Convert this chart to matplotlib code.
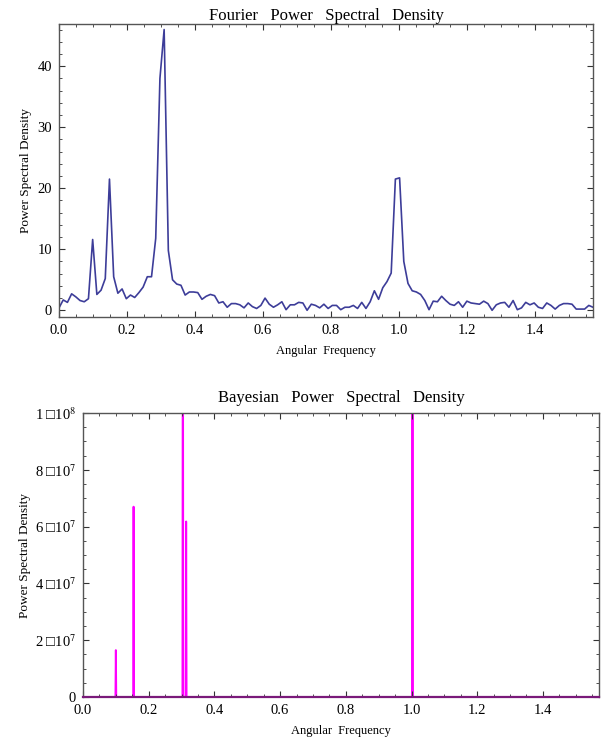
import numpy as np
import matplotlib
matplotlib.use('Agg')
import matplotlib.pyplot as plt
from matplotlib.ticker import MultipleLocator, FixedLocator

plt.rcParams['font.family'] = ['Liberation Serif', 'DejaVu Serif']
plt.rcParams['mathtext.fontset'] = 'stix'

# Fourier periodogram, frequency step 2*pi/508
fourier_step = 2 * np.pi / 508
fourier_psd = [
    0.4, 1.7, 1.3, 2.7, 2.2, 1.6, 1.4, 1.9, 11.6, 2.6,
    3.3, 5.2, 21.5, 5.5, 2.8, 3.5, 1.9, 2.5, 2.1, 2.9,
    3.8, 5.5, 5.5, 11.8, 38.0, 46.0, 9.8, 5.0, 4.3, 4.1,
    2.5, 3.0, 3.0, 2.9, 1.8, 2.3, 2.6, 2.4, 1.2, 1.4,
    0.5, 1.1, 1.1, 0.9, 0.4, 1.2, 0.6, 0.3, 0.8, 2.0,
    1.0, 0.5, 0.9, 1.4, 0.1, 0.9, 0.9, 1.3, 1.2, 0.0,
    1.0, 0.8, 0.4, 1.0, 0.3, 0.8, 0.8, 0.1, 0.5, 0.5,
    0.8, 0.3, 1.3, 0.3, 1.4, 3.2, 1.8, 3.7, 4.7, 6.1,
    21.5, 21.7, 8.0, 4.4, 3.2, 3.0, 2.6, 1.6, 0.1, 1.5,
    1.4, 2.3, 1.6, 1.0, 0.8, 1.4, 0.5, 1.5, 1.2, 1.1,
    1.0, 1.5, 1.1, 0.0, 0.9, 1.2, 1.3, 0.5, 1.6, 0.1,
    0.4, 1.3, 0.9, 1.2, 0.5, 0.3, 1.2, 0.8, 0.2, 0.8,
    1.1, 1.1, 1.0, 0.2, 0.2, 0.2, 0.8, 0.5,
]
fourier_freq = np.arange(len(fourier_psd)) * fourier_step

# Bayesian spectral density: narrow spikes
spike_freq = [0.1, 0.154, 0.304, 0.314, 1.003]
spike_height = [1.65e7, 6.7e7, 1.9e8, 6.18e7, 1.9e8]
spike_halfwidth = 0.0012

bayes_freq = [0.0]
bayes_psd = [0.0]
for f, h in zip(spike_freq, spike_height):
    bayes_freq += [f - spike_halfwidth, f, f + spike_halfwidth]
    bayes_psd += [0.0, h, 0.0]
bayes_freq.append(np.pi / 2)
bayes_psd.append(0.0)

bayes_ticks = [0, 2e7, 4e7, 6e7, 8e7, 1e8]
bayes_ticklabels = ['0', '2 \u25a110$^{7}$', '4 \u25a110$^{7}$', '6 \u25a110$^{7}$',
                    '8 \u25a110$^{7}$', '1 \u25a110$^{8}$']

fig = plt.figure(figsize=(6.01, 7.40), dpi=100)
ax1 = fig.add_axes([0.0982, 0.5716, 0.8885, 0.3959])
ax2 = fig.add_axes([0.1381, 0.0581, 0.8586, 0.3838])


def style(ax):
    for s in ax.spines.values():
        s.set_color('#555555')
        s.set_linewidth(1.0)
    ax.tick_params(which='both', direction='in', top=True, right=True,
                   labelsize=10.5, colors='#333333', labelcolor='black')
    ax.tick_params(which='major', length=4, width=0.8, pad=5)
    ax.tick_params(which='minor', length=2.5, width=0.6)
    ax.xaxis.set_major_locator(MultipleLocator(0.2))
    ax.xaxis.set_minor_locator(MultipleLocator(0.05))
    ax.set_xlabel('Angular  Frequency', fontsize=9, labelpad=6)


ax1.plot(fourier_freq, fourier_psd, color='#3d3d99', lw=1.2)
ax1.set_xlim(0, np.pi / 2)
ax1.set_ylim(-1.1, 46.9)
style(ax1)
ax1.yaxis.set_major_locator(MultipleLocator(10))
ax1.yaxis.set_minor_locator(MultipleLocator(2))
ax1.set_ylabel('Power Spectral Density', fontsize=9.5, labelpad=4)
ax1.set_title('Fourier   Power   Spectral   Density', fontsize=12, pad=3)

ax2.plot(bayes_freq, bayes_psd, color='#ff00ff', lw=1.4, zorder=1)
ax2.set_xlim(0, np.pi / 2)
ax2.set_ylim(0, 1e8)
style(ax2)
ax2.yaxis.set_major_locator(FixedLocator(bayes_ticks))
ax2.set_yticklabels(bayes_ticklabels)
ax2.yaxis.set_minor_locator(MultipleLocator(5e6))
ax2.spines['bottom'].set_color('#7a1a7a')
ax2.spines['bottom'].set_linewidth(1.6)
ax2.set_ylabel('Power Spectral Density', fontsize=9.5, labelpad=3)
ax2.set_title('Bayesian   Power   Spectral   Density', fontsize=12, pad=8)

fig.savefig('out.png', dpi=100)
